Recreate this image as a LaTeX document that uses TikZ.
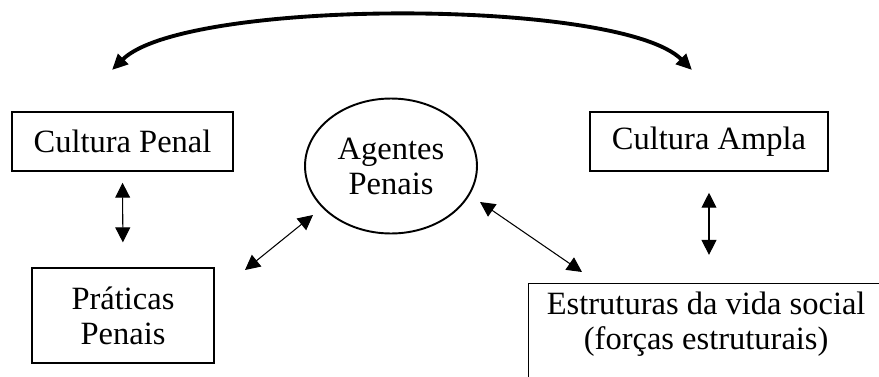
\documentclass[tikz,border=0pt]{standalone}
\usepackage{fontspec}
\setmainfont{Liberation Serif}
\usetikzlibrary{arrows.meta, shapes.geometric}

\begin{document}
\begin{tikzpicture}[x=0.02cm, y=-0.02cm,
    box/.style={rectangle, draw=black, line width=0.8pt, align=center,
                inner sep=0pt, font=\fontsize{18.5}{20}\selectfont},
    agent/.style={ellipse, draw=black, line width=1.1pt, align=center,
                inner sep=0pt, minimum width=3.44cm, minimum height=2.7cm,
                font=\fontsize{18.5}{20}\selectfont},
    dub/.style={{Triangle[length=8.5pt, width=8.5pt]}-{Triangle[length=8.5pt, width=8.5pt]},
                line width=0.6pt},
    big/.style={{Triangle[length=9pt, width=8pt]}-{Triangle[length=9pt, width=8pt]},
                line width=2.2pt}
  ]
    \useasboundingbox (0,0) rectangle (879,376);
    \clip (0,0) rectangle (879,376);

    \node[box, minimum width=4.42cm, minimum height=1.18cm] (cpenal) at (122.5,141.5) {Cultura Penal};
    \node[box, minimum width=3.64cm, minimum height=1.9cm]  (praticas) at (123,315.5) {Práticas\\Penais};
    \node[box, minimum width=4.76cm, minimum height=1.18cm] (campla) at (709,141.5) {Cultura Ampla};
    \node[box, anchor=north west, minimum width=7.1cm, inner ysep=4.5pt, text depth=1.2cm]
         (estrut) at (528,283) {Estruturas da vida social\\(forças estruturais)};
    \node[agent] (agentes) at (391,166) {Agentes\\Penais};

    % free ends of the diagonal arrows and of the top arc
    \coordinate (pl) at (245,270);
    \coordinate (al) at (313,215);
    \coordinate (ar) at (480,202);
    \coordinate (er) at (582,272);
    \coordinate (topl) at (112,70);
    \coordinate (topr) at (692,70);

    \draw[dub, shorten <=6.3pt, shorten >=14.2pt] (cpenal.south) -- (praticas.north);
    \draw[dub, shorten <=12pt, shorten >=16pt] (campla.south) -- (campla.south |- estrut.north);
    \draw[dub] (pl) -- (al);
    \draw[dub] (ar) -- (er);
    \draw[big] (topl) .. controls (185,-2) and (620,-2) .. (topr);
\end{tikzpicture}
\end{document}
